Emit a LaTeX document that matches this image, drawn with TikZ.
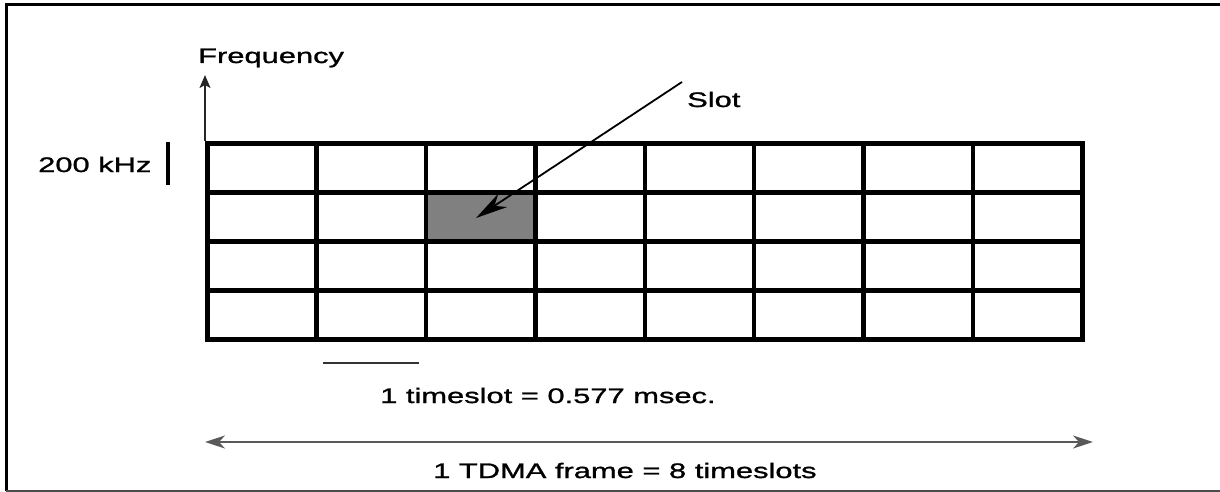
\documentclass[tikz,border=0pt]{standalone}
\usepackage{fontspec}
\setmainfont{Liberation Sans}[FakeStretch=1.47,FakeBold=1.2]
\usetikzlibrary{arrows.meta}
\begin{document}
\begin{tikzpicture}[x=1pt,y=-1pt,
  every node/.style={font=\fontsize{21}{25}\selectfont, inner sep=0pt},
  cell/.style={draw, line width=4.5pt, minimum width=109.375pt, minimum height=49pt, anchor=north west},
  slotcell/.style={cell, fill=black!50},
  thinarrow/.style={line width=1.6pt, draw=black!85, -{Stealth[length=13pt,width=11pt,inset=3pt]}},
  framearrow/.style={line width=1.8pt, draw=black!65, {Stealth[length=20pt,width=13pt,inset=6pt]}-{Stealth[length=20pt,width=13pt,inset=6pt]}},
  slotarrow/.style={line width=1.8pt, -{Stealth[length=32pt,width=16pt,inset=10pt]}}]
\useasboundingbox (0,0) rectangle (1220,492);

% outer frame (open on the right)
\draw[line width=3pt] (1225,5) -- (6,5) -- (6,491);
\draw[line width=1.4pt, black!70] (6,491) -- (1225,491);

% time/frequency grid: 4 carriers x 8 timeslots
\foreach \r in {0,...,3} {
  \foreach \c in {0,...,7} {
    \node[cell] (c\r\c) at ({205+109.375*\c},{141+49*\r}) {};
  }
}
\node[slotcell] (c12) at ({205+109.375*2},{141+49*1}) {};

% frequency axis
\coordinate (origin) at (205,141);
\coordinate (axistop) at (205,75);
\draw[thinarrow] (origin) -- (axistop);
\node[anchor=base west] (freq) at (198,63) {Frequency};

% carrier spacing
\node[anchor=base west] (khz) at (38,172) {200 kHz};
\coordinate (khzA) at (168,142);
\coordinate (khzB) at (168,185);
\draw[line width=4pt] (khzA) -- (khzB);

% slot label and pointer
\node[anchor=base west] (slot) at (687,107) {Slot};
\coordinate (slotstart) at (682,82);
\coordinate (slottip) at (476,218);
\draw[slotarrow] (slotstart) -- (slottip);

% one timeslot duration
\coordinate (tsA) at (323,363);
\coordinate (tsB) at (419,363);
\draw[line width=2.4pt, black!80] (tsA) -- (tsB);
\node[anchor=base west] (ts) at (380,403) {1 timeslot = 0.577 msec.};

% whole TDMA frame
\coordinate (frA) at (205,442);
\coordinate (frB) at (1093,442);
\draw[framearrow] (frA) -- (frB);
\node[anchor=base west] (frame) at (433,478) {1 TDMA frame = 8 timeslots};
\end{tikzpicture}
\end{document}
